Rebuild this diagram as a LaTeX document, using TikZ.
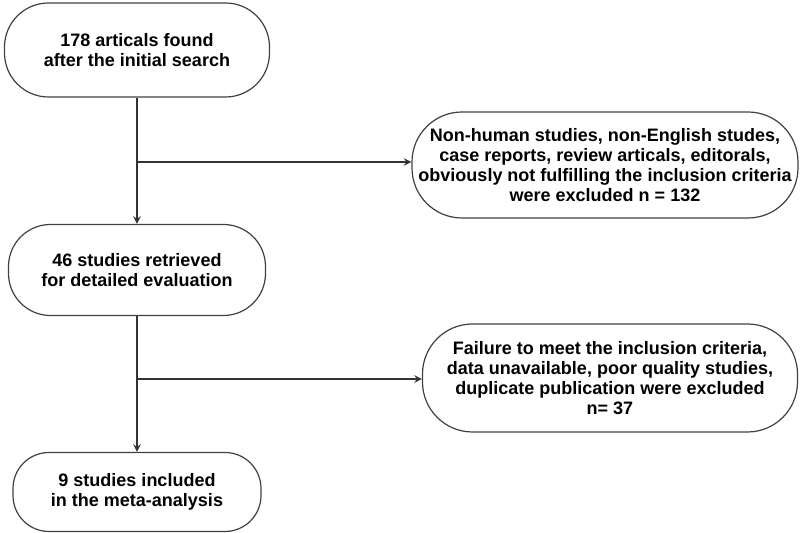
\documentclass[tikz,border=0pt]{standalone}
\usepackage{fontspec}
\setmainfont{Liberation Sans}
\usepackage{tikz}
\usetikzlibrary{trees,arrows}

\begin{document}
\begin{tikzpicture}[>=stealth, x=0.5pt, y=-0.5pt]
	\tikzstyle{stage} = [draw=black!75, line width=0.6pt, align=center, inner sep=0pt, font=\fontsize{9}{10}\selectfont\bfseries]
	\tikzstyle{flow} = [draw=black!80, line width=0.7pt]
	\useasboundingbox (0,0) rectangle (800,533);
	\begin{scope}
	  \path
	  node[stage, rounded corners=22pt, minimum width=132.5pt, minimum height=47pt] (found) at (137,50) {178 articals found\\after the initial search}
	  node[stage, rounded corners=25pt, minimum width=193pt, minimum height=53pt] (excl1) at (605,165) {Non-human studies, non-English studes,\\case reports, review articals, editorals,\\obviously not fulfilling the inclusion criteria\\were excluded n = 132}
	  node[stage, rounded corners=21pt, minimum width=128.5pt, minimum height=45.5pt] (retrieved) at (137,270) {46 studies retrieved\\for detailed evaluation}
	  node[stage, rounded corners=25pt, minimum width=187.5pt, minimum height=54pt] (excl2) at (610,378) {Failure to meet the inclusion criteria,\\data unavailable, poor quality studies,\\duplicate publication were excluded\\n= 37}
	  node[stage, rounded corners=18pt, minimum width=124pt, minimum height=39.5pt] (included) at (137,492) {9 studies included\\in the meta-analysis}
	  ;
	  \coordinate (j1) at (137,162);
	  \coordinate (j2) at (137,379);
	  \draw[->, flow] (found) -- (retrieved);
	  \draw[->, flow] (retrieved) -- (included);
	  \draw[->, flow] (j1) -- (j1 -| excl1.west);
	  \draw[->, flow] (j2) -- (j2 -| excl2.west);
	\end{scope}
\end{tikzpicture}
\end{document}
